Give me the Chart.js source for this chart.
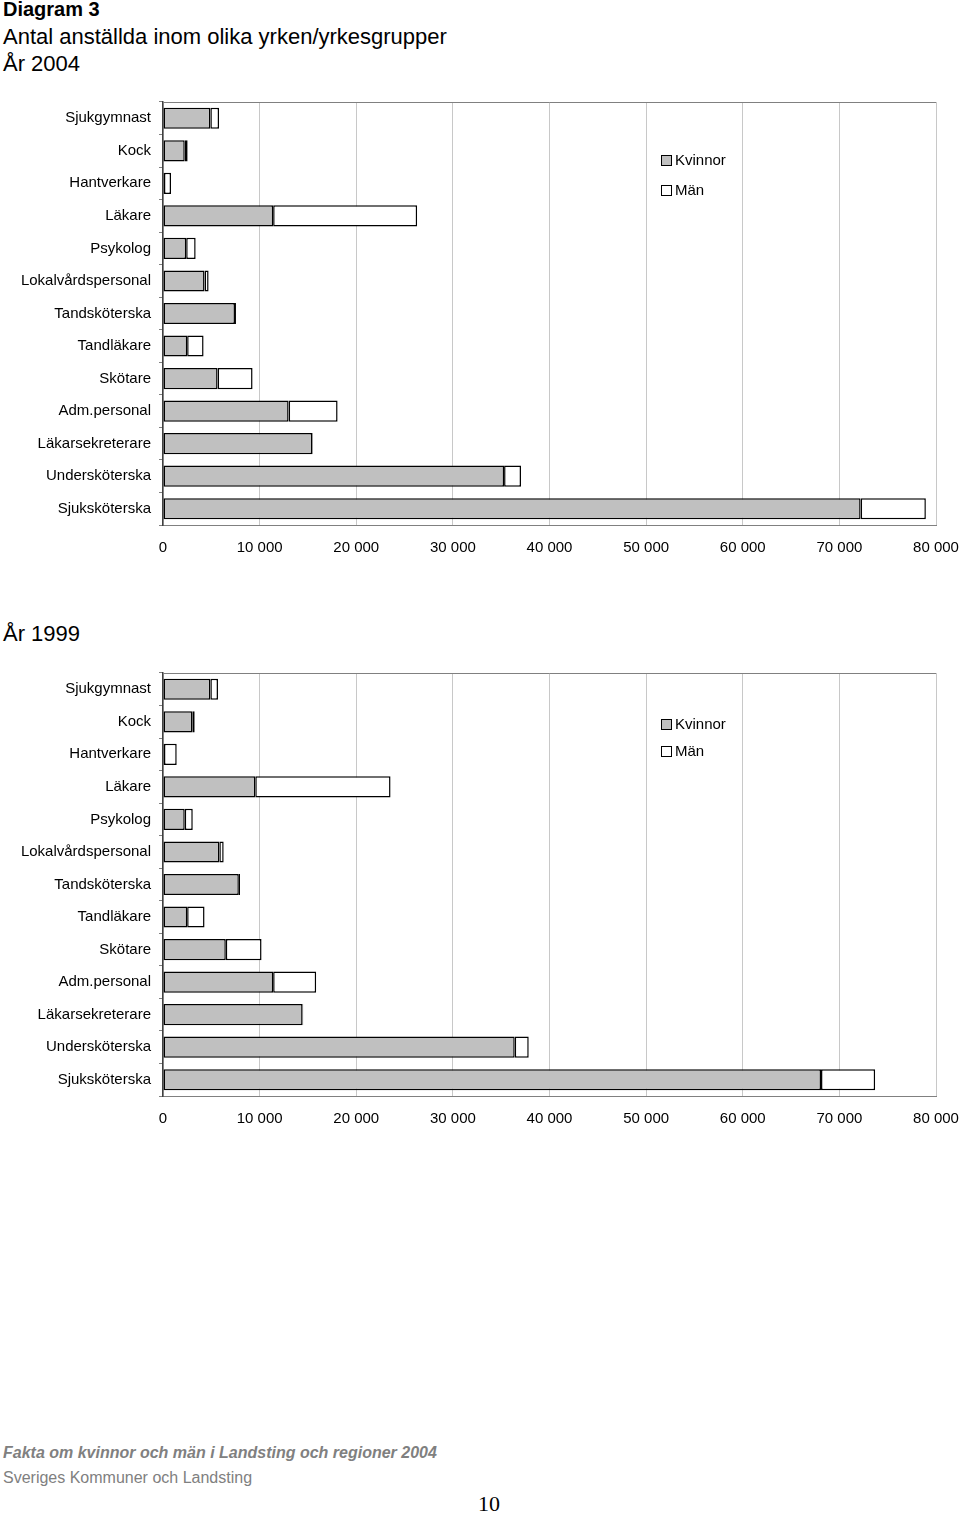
<!DOCTYPE html>
<html>
<head>
<meta charset="utf-8">
<script src="https://cdn.jsdelivr.net/npm/chart.js@4.4.1/dist/chart.umd.min.js"></script>
<style>
  body { margin:0; width:960px; height:1514px; background:#fff; position:relative; font-family:"Liberation Sans", Arial, sans-serif; overflow:hidden; }
  .txt { position:absolute; left:3px; white-space:nowrap; color:#000; }
  .box { position:absolute; width:9px; height:9px; border:1px solid #000; }
  .leg { position:absolute; font-size:15px; white-space:nowrap; }
  .wrap { position:absolute; left:0; width:960px; height:470px; }
</style>
</head>
<body>
<div class="txt" style="top:-2px;font-size:20px;font-weight:bold;">Diagram 3</div>
<div class="txt" style="top:24px;font-size:22px;">Antal anställda inom olika yrken/yrkesgrupper</div>
<div class="txt" style="top:51px;font-size:22px;">År 2004</div>
<div class="txt" style="top:621px;font-size:22px;">År 1999</div>

<div class="wrap" style="top:95px;"><canvas id="graph"></canvas></div>
<div class="wrap" style="top:666px;"><canvas id="graph1"></canvas></div>

<div class="box" style="left:661px;top:155px;background:#c0c0c0;"></div>
<div class="leg" style="left:675px;top:151px;">Kvinnor</div>
<div class="box" style="left:661px;top:185px;background:#fff;"></div>
<div class="leg" style="left:675px;top:181px;">Män</div>

<div class="box" style="left:661px;top:719px;background:#c0c0c0;"></div>
<div class="leg" style="left:675px;top:715px;">Kvinnor</div>
<div class="box" style="left:661px;top:746px;background:#fff;"></div>
<div class="leg" style="left:675px;top:742px;">Män</div>

<div class="txt" style="top:1444px;font-size:16px;font-weight:bold;font-style:italic;color:#808080;">Fakta om kvinnor och män i Landsting och regioner 2004</div>
<div class="txt" style="top:1469px;font-size:16px;color:#808080;">Sveriges Kommuner och Landsting</div>
<div class="txt" style="left:478px;top:1491px;font-size:22px;font-family:'Liberation Serif','Times New Roman',serif;">10</div>

<script>
// datos
const yrken = ['Sjukgymnast','Kock','Hantverkare','Läkare','Psykolog','Lokalvårdspersonal',
    'Tandsköterska','Tandläkare','Skötare','Adm.personal','Läkarsekreterare','Undersköterska','Sjuksköterska'];

const kvinnor_2004 = [4900, 2250, 100, 11400, 2400, 4300, 7450, 2500, 5650, 13000, 15450, 35300, 72200];
const man_2004     = [ 900,  300, 730, 14900,  980,  420,  100, 1700, 3620,  5070,    60,  1750,  6750];

const kvinnor_1999 = [4900, 3030, 100,  9550, 2250, 5830, 7850, 2500, 6500, 11400, 14450, 36400, 68100];
const man_1999     = [ 790,  250, 1320, 14000,  830,  450,  120, 1800, 3700,  4450,    60,  1450,  5600];

const x_ticks = [0, 10000, 20000, 30000, 40000, 50000, 60000, 70000, 80000];

const fmt = v => String(v).replace(/\B(?=(\d{3})+(?!\d))/g, ' ');

// quitar padding automatico de las escalas
const sin_padding = s => {
    s.paddingTop = 0;
    s.paddingBottom = 0;
    s.paddingLeft = 0;
    s.paddingRight = 0;
};

// marco del grafico (arriba)
const marco = {
    id: 'marco',
    beforeDatasetsDraw(chart) {
        const {ctx, chartArea} = chart;
        ctx.save();
        ctx.strokeStyle = '#808080';
        ctx.lineWidth = 1;
        ctx.beginPath();
        ctx.moveTo(chartArea.left, chartArea.top + 0.5);
        ctx.lineTo(chartArea.right, chartArea.top + 0.5);
        ctx.stroke();
        ctx.restore();
    }
};

const genera_grafico = (canvas, kvinnor, man) => {
    const data = {
        labels: yrken,
        datasets: [{
            label: 'Kvinnor',
            data: kvinnor,
            backgroundColor: '#c0c0c0',
            borderColor: '#000',
            borderWidth: 1.5,
            borderSkipped: false,
            barPercentage: 0.65,
            categoryPercentage: 1
        }, {
            label: 'Män',
            data: man,
            backgroundColor: '#fff',
            borderColor: '#000',
            borderWidth: 1.5,
            borderSkipped: false,
            barPercentage: 0.65,
            categoryPercentage: 1
        }]
    };
    const config = {
        type: 'bar',
        data,
        options: {
            indexAxis: 'y',
            responsive: true,
            maintainAspectRatio: false,
            animation: false,
            layout: { padding: { top: 7, right: 24, bottom: 0, left: 0 } },
            plugins: { legend: { display: false }, tooltip: { enabled: false } },
            scales: {
                x: {
                    stacked: true,
                    min: 0,
                    max: 80000,
                    afterBuildTicks: s => { s.ticks = x_ticks.map(v => ({value: v})); },
                    afterFit: s => { s.height = 40; sin_padding(s); },
                    grid: { color: '#c8c8c8', lineWidth: 1, drawTicks: false },
                    border: { color: '#808080' },
                    ticks: {
                        padding: 14,
                        color: '#000',
                        maxRotation: 0,
                        font: { family: '"Liberation Sans", Arial', size: 15 },
                        callback: v => fmt(v)
                    }
                },
                y: {
                    stacked: true,
                    afterFit: s => { s.width = 163; sin_padding(s); },
                    grid: { drawOnChartArea: false, drawTicks: true, tickLength: 4, color: '#808080', offset: true },
                    border: { color: '#404040', width: 1.5 },
                    ticks: {
                        padding: 8,
                        color: '#000',
                        autoSkip: false,
                        font: { family: '"Liberation Sans", Arial', size: 15 }
                    }
                }
            }
        },
        plugins: [marco]
    };
    new Chart(canvas, config);
};

genera_grafico(document.querySelector('#graph'), kvinnor_2004, man_2004);
genera_grafico(document.querySelector('#graph1'), kvinnor_1999, man_1999);
</script>
</body>
</html>
